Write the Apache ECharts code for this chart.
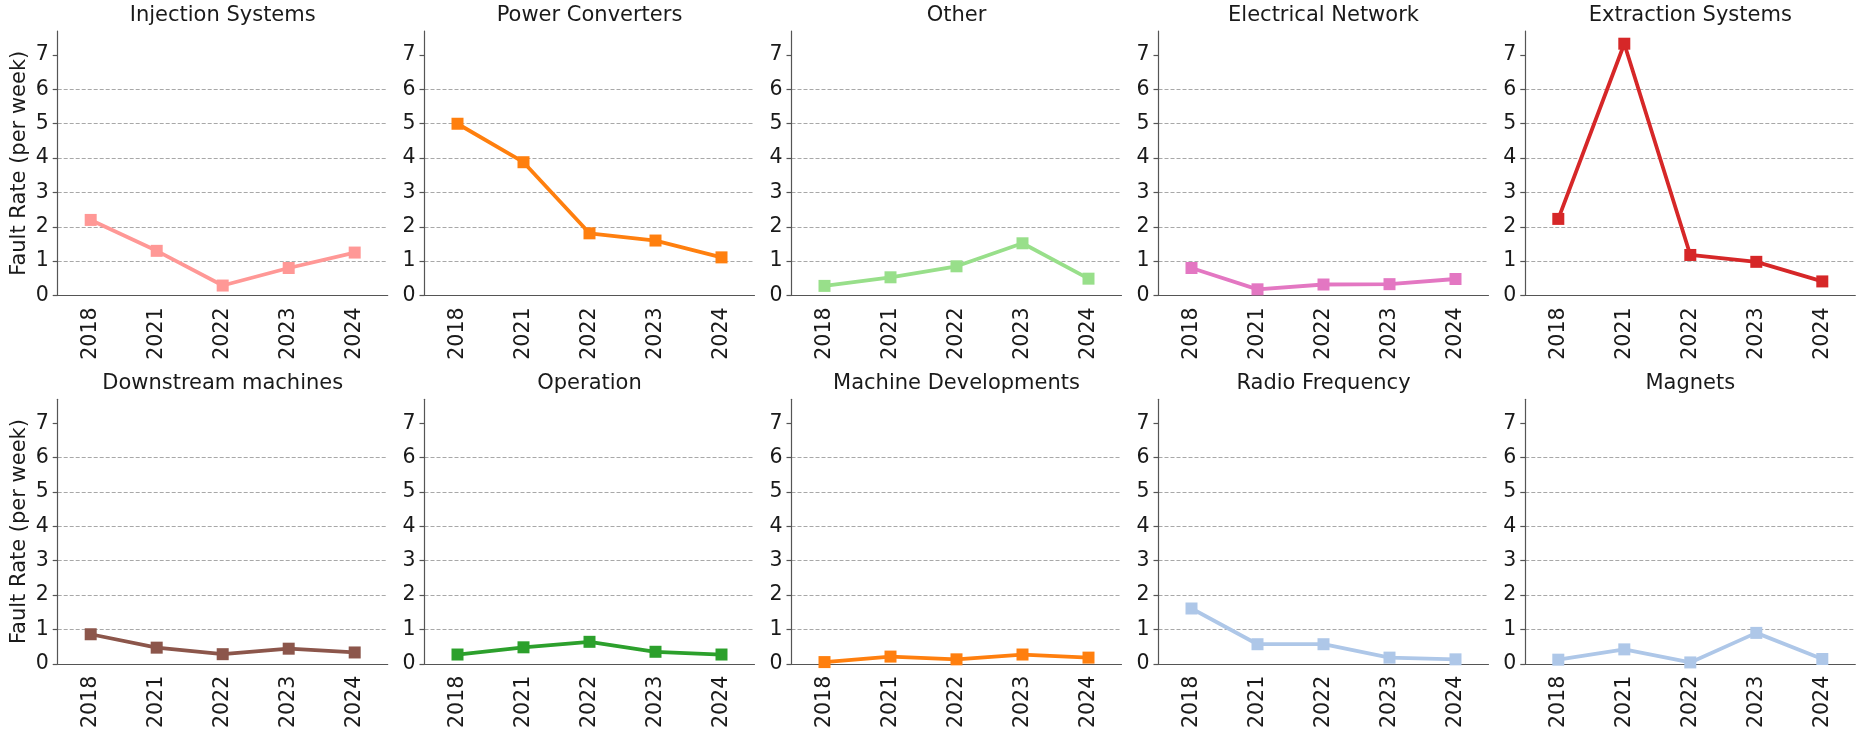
<!DOCTYPE html>
<html>
<head>
<meta charset="utf-8">
<script src="https://cdn.jsdelivr.net/npm/echarts@6/dist/echarts.min.js"></script>
<style>
  html, body { margin: 0; padding: 0; background: #fff; }
  #chart { width: 1856px; height: 737px; }
</style>
</head>
<body>
<div id="chart"></div>
<script>
// Years on every x axis
const years = ['2018', '2021', '2022', '2023', '2024'];
// Y tick labels
const yTicks = [0, 1, 2, 3, 4, 5, 6, 7];

// Fault rate per week, by system
const injectionSystems   = [2.20, 1.30, 0.29, 0.80, 1.25];
const powerConverters    = [5.00, 3.88, 1.81, 1.60, 1.11];
const other              = [0.28, 0.53, 0.85, 1.52, 0.49];
const electricalNetwork  = [0.80, 0.18, 0.32, 0.33, 0.48];
const extractionSystems  = [2.23, 7.33, 1.18, 0.98, 0.41];
const downstreamMachines = [0.86, 0.47, 0.28, 0.44, 0.33];
const operation          = [0.27, 0.48, 0.64, 0.35, 0.27];
const machineDevelopments= [0.05, 0.21, 0.13, 0.27, 0.18];
const radioFrequency     = [1.61, 0.57, 0.57, 0.18, 0.13];
const magnets            = [0.12, 0.42, 0.04, 0.90, 0.14];

const panelTitles = ['Injection Systems', 'Power Converters', 'Other', 'Electrical Network', 'Extraction Systems',
                     'Downstream machines', 'Operation', 'Machine Developments', 'Radio Frequency', 'Magnets'];
const panelData = [injectionSystems, powerConverters, other, electricalNetwork, extractionSystems,
                   downstreamMachines, operation, machineDevelopments, radioFrequency, magnets];
const panelColors = ['#ff9896', '#ff7f0e', '#98df8a', '#e377c2', '#d62728',
                     '#8c564b', '#2ca02c', '#ff7f0e', '#aec7e8', '#aec7e8'];

const FONT = 'DejaVu Sans';
const TEXT = '#1a1a1a';
const AXIS = '#555555';

// Panel layout (pixels)
const colLeft = [57.7, 424.5, 791.5, 1158.5, 1525.3];
const rowTop = [31, 399.3];
const plotW = 330;
const plotH = 264.5;
const titleTop = [5.5, 373];

const grids = [], xAxes = [], yAxes = [], series = [], titles = [];

panelData.forEach((vals, i) => {
  const r = Math.floor(i / 5), c = i % 5;
  grids.push({ left: colLeft[c], top: rowTop[r], width: plotW, height: plotH });
  titles.push({
    text: panelTitles[i],
    left: colLeft[c] + plotW / 2,
    top: titleTop[r],
    textAlign: 'center',
    padding: 0,
    textStyle: { fontFamily: FONT, fontSize: 21, fontWeight: 'normal', color: TEXT }
  });
  xAxes.push({
    type: 'category', gridIndex: i, data: years, boundaryGap: true,
    axisLine: { lineStyle: { color: AXIS, width: 1.2 } },
    axisTick: { alignWithLabel: true, length: 5, lineStyle: { color: AXIS, width: 1.2 } },
    axisLabel: { rotate: 90, margin: 12, interval: 0, fontFamily: FONT, fontSize: 20.5, color: TEXT },
    splitLine: { show: false }
  });
  yAxes.push({
    type: 'value', gridIndex: i, min: 0, max: 7.7, interval: 1,
    name: c === 0 ? 'Fault Rate (per week)' : '',
    nameLocation: 'middle', nameRotate: 90, nameGap: 28,
    nameTextStyle: { fontFamily: FONT, fontSize: 21, color: TEXT },
    axisLine: { show: true, lineStyle: { color: AXIS, width: 1.2 } },
    axisTick: { show: true, length: 5, customValues: yTicks, lineStyle: { color: AXIS, width: 1.2 } },
    axisLabel: { customValues: yTicks, margin: 9, fontFamily: FONT, fontSize: 20.5, color: TEXT },
    splitLine: {
      show: true, showMinLine: false, showMaxLine: false,
      lineStyle: { color: '#a8a8a8', width: 1, type: [4, 2] }
    }
  });
  series.push({
    type: 'line', xAxisIndex: i, yAxisIndex: i, data: vals,
    symbol: 'rect', symbolSize: 12, showAllSymbol: true,
    lineStyle: { color: panelColors[i], width: 3.8 },
    itemStyle: { color: panelColors[i] },
    emphasis: { disabled: true },
    animation: false
  });
});

const chart = echarts.init(document.getElementById('chart'), null, { renderer: 'canvas' });
chart.setOption({
  animation: false,
  backgroundColor: '#ffffff',
  title: titles,
  grid: grids,
  xAxis: xAxes,
  yAxis: yAxes,
  series: series
});
</script>
</body>
</html>
